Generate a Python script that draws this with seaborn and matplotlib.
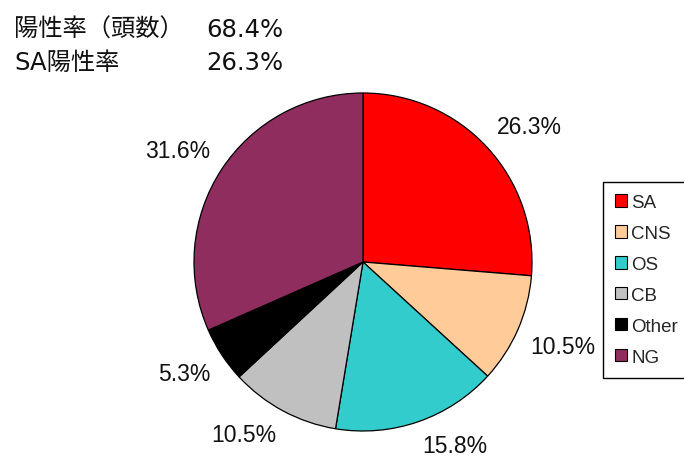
import numpy as np
import matplotlib
matplotlib.use("Agg")
import matplotlib.pyplot as plt
import seaborn as sns

# Isolate breakdown (share of heads, %)
categories = ["SA", "CNS", "OS", "CB", "Other", "NG"]
shares = [26.3, 10.5, 15.8, 10.5, 5.3, 31.6]
slice_colors = ["#FF0000", "#FFCC99", "#33CCCC", "#C0C0C0", "#000000", "#8F2D5E"]

summary_labels = ["陽性率（頭数）", "SA陽性率"]
summary_values = ["68.4%", "26.3%"]

sns.set_style("white")
plt.rcParams["font.family"] = ["Liberation Sans", "DejaVu Sans"]

W, H = 684, 464
fig = plt.figure(figsize=(W / 100, H / 100), dpi=100)
fig.patch.set_facecolor("white")

# pie occupies a square region: centre (363, 263), radius ~169 px
cx, cy, r = 363, 263, 169
ax = fig.add_axes([(cx - r) / W, (H - cy - r) / H, 2 * r / W, 2 * r / H])
palette = sns.color_palette(slice_colors)
wedges, _ = ax.pie(
    shares,
    colors=palette,
    startangle=90,
    counterclock=False,
    radius=1.0,
    wedgeprops=dict(edgecolor="black", linewidth=0.9),
)
ax.set_xlim(-1, 1)
ax.set_ylim(-1, 1)
ax.set_aspect("equal")
ax.axis("off")

# percentage labels: nearest corner of each label sits just outside the rim
for w, v in zip(wedges, shares):
    mid = np.deg2rad((w.theta1 + w.theta2) / 2)
    c, s = np.cos(mid), np.sin(mid)
    d = 1.08
    ax.text(d * c, d * s, f"{v}%",
            ha="left" if c >= 0 else "right",
            va="bottom" if s >= 0 else "top",
            fontsize=16.5, family=["Liberation Sans", "DejaVu Sans"],
            color="#111111", clip_on=False)

# legend box at the right edge
leg = fig.legend(
    wedges, categories,
    loc="upper left",
    bbox_to_anchor=(603 / W, 1 - 183 / H),
    bbox_transform=fig.transFigure,
    borderaxespad=0,
    frameon=True, fancybox=False, shadow=False,
    edgecolor="black", framealpha=1,
    prop=dict(family=["Liberation Sans", "DejaVu Sans"], size=13.5),
    handlelength=0.65, handleheight=0.65, handletextpad=0.2,
    labelspacing=0.74, borderpad=0.65,
)
leg.get_frame().set_linewidth(1.0)
for h in leg.legend_handles:
    h.set_edgecolor("black")
    h.set_linewidth(0.8)

# summary lines at top-left
baselines = [37, 70]
for lab, val, yb in zip(summary_labels, summary_values, baselines):
    fig.text(14 / W, 1 - yb / H, lab, family=["DejaVu Sans", "Noto Sans CJK JP"],
             fontsize=17.5, va="baseline", ha="left", color="#111111")
    fig.text(206 / W, 1 - yb / H, val, family=["DejaVu Sans"], fontsize=17.5,
             va="baseline", ha="left", color="#111111")

fig.savefig("out.png", dpi=100, facecolor="white")
